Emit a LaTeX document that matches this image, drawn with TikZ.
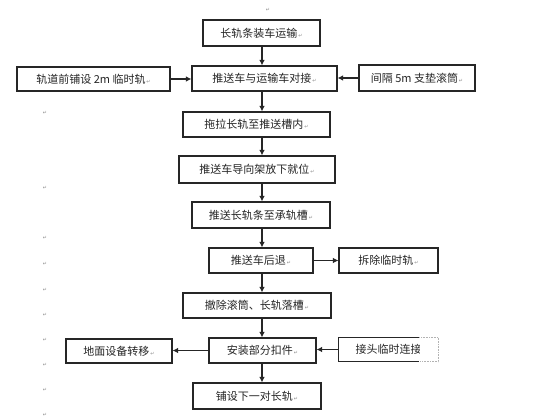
\documentclass[tikz,border=0pt]{standalone}
\usepackage{fontspec}
\newfontfamily\cjk{Noto Sans CJK SC}
\newfontfamily\dv{DejaVu Sans}
\usetikzlibrary{arrows.meta,calc}
\newcommand{\parmk}{{\dv\fontsize{5pt}{5pt}\selectfont\color{black!45}\,↵}}
\tikzset{
  box/.style={draw=black!85, line width=1.1pt, fill=white, inner sep=0pt, align=center,
    font=\cjk\fontsize{11pt}{12pt}\selectfont, text=black!85},
  arr/.style={draw=black!85, line width=1.1pt, -{Latex[length=5.5pt,width=5.5pt]}},
  pmark/.style={inner sep=0pt, font=\dv\fontsize{5pt}{5pt}\selectfont, text=black!45},
}
\begin{document}
\begin{tikzpicture}[x=1pt,y=-1pt]
\useasboundingbox[fill=white] (0,0) rectangle (560,420);
\coordinate (spine) at (262,0);
\node[box, minimum width=117pt, minimum height=26pt] (b1) at (261.5,33) {长轨条装车运输\parmk};
\node[box, minimum width=145pt, minimum height=25pt] (b2) at (264.5,78.5) {推送车与运输车对接\parmk};
\node[box, minimum width=153pt, minimum height=24pt] (l1) at (93.5,79) {轨道前铺设 2m 临时轨\parmk};
\node[box, minimum width=116pt, minimum height=26pt] (r1) at (417,78) {间隔 5m 支垫滚筒\parmk};
\node[box, minimum width=147pt, minimum height=25pt] (b3) at (256.5,124.5) {拖拉长轨至推送槽内\parmk};
\node[box, minimum width=156pt, minimum height=27pt] (b4) at (257,169.5) {推送车导向架放下就位\parmk};
\node[box, minimum width=138pt, minimum height=26pt] (b5) at (261,215) {推送长轨条至承轨槽\parmk};
\node[box, minimum width=104pt, minimum height=25pt] (b6) at (261,260.5) {推送车后退\parmk};
\node[box, minimum width=99pt, minimum height=25pt] (b7) at (388.5,260.5) {拆除临时轨\parmk};
\node[box, minimum width=148pt, minimum height=25pt] (b8) at (257,305.5) {撤除滚筒、长轨落槽\parmk};
\node[box, minimum width=107pt, minimum height=25pt] (b9) at (262.5,350.5) {安装部分扣件\parmk};
\node[box, minimum width=106pt, minimum height=24pt] (l2) at (119,351) {地面设备转移\parmk};
\node[box, draw=none, fill=none, minimum width=99pt, minimum height=23pt] (r2) at (388.5,349.5) {};
\node[box, minimum width=128pt, minimum height=26pt] (b10) at (257,396) {铺设下一对长轨\parmk};
% cut-off box
\draw[black!85, line width=1.1pt] ($(r2.north west)+(81,0)$) -- (r2.north west) -- (r2.south west) -- ($(r2.south west)+(81,0)$);
\draw[black!30, line width=0.6pt, densely dotted] ($(r2.north west)+(81,0)$) -- (r2.north east) -- (r2.south east) -- ($(r2.south west)+(81,0)$);
\begin{scope}
\clip (r2.south west) rectangle ($(r2.north west)+(81,0)$);
\node[box, draw=none, fill=none, anchor=west] (r2t) at (355,349.5) {接头临时连接};
\end{scope}
% vertical arrows
\draw[arr] (b1.south -| spine) -- (b2.north -| spine);
\draw[arr] (b2.south -| spine) -- (b3.north -| spine);
\draw[arr] (b3.south -| spine) -- (b4.north -| spine);
\draw[arr] (b4.south -| spine) -- (b5.north -| spine);
\draw[arr] (b5.south -| spine) -- (b6.north -| spine);
\draw[arr] (b6.south -| spine) -- (b8.north -| spine);
\draw[arr] (b8.south -| spine) -- (b9.north -| spine);
\draw[arr] (b9.south -| spine) -- (b10.north -| spine);
% horizontal arrows
\draw[arr] (l1.east) -- (l1.east -| b2.west);
\draw[arr] (r1.west) -- (r1.west -| b2.east);
\draw[arr] (b6.east) -- (b6.east -| b7.west);
\draw[arr] (b9.west) -- (b9.west -| l2.east);
\draw[arr] (r2.west) -- (r2.west -| b9.east);
% stray paragraph marks
\node[pmark] (m0) at (268,10) {↵};
\foreach \yy [count=\i] in {113,188,238,264,290,315,340,365,390,415}
  \node[pmark] (m\i) at (45,\yy) {↵};
\end{tikzpicture}
\end{document}
